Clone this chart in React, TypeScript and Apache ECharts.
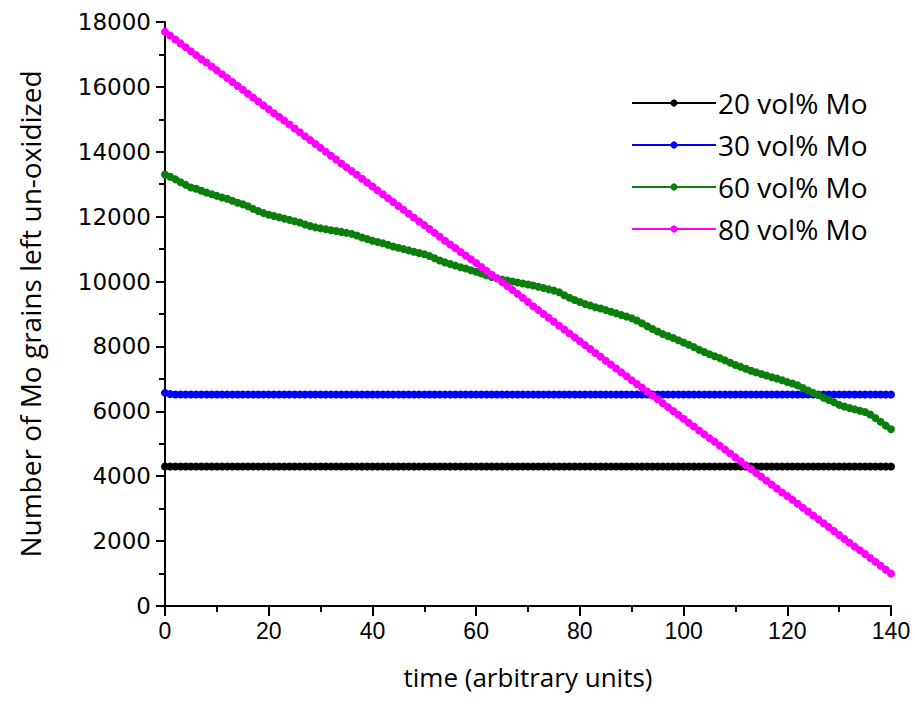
import React, { useEffect, useRef } from "react";
import * as echarts from "echarts";

const seriesNames = ["20 vol% Mo", "30 vol% Mo", "60 vol% Mo", "80 vol% Mo"];
const xTickLabels = ["0", "20", "40", "60", "80", "100", "120", "140"];
const yTickLabels = ["0", "2000", "4000", "6000", "8000", "10000", "12000", "14000", "16000", "18000"];

// time steps 0..140
const time = [
  0, 1, 2, 3, 4, 5, 6, 7, 8, 9,
  10, 11, 12, 13, 14, 15, 16, 17, 18, 19,
  20, 21, 22, 23, 24, 25, 26, 27, 28, 29,
  30, 31, 32, 33, 34, 35, 36, 37, 38, 39,
  40, 41, 42, 43, 44, 45, 46, 47, 48, 49,
  50, 51, 52, 53, 54, 55, 56, 57, 58, 59,
  60, 61, 62, 63, 64, 65, 66, 67, 68, 69,
  70, 71, 72, 73, 74, 75, 76, 77, 78, 79,
  80, 81, 82, 83, 84, 85, 86, 87, 88, 89,
  90, 91, 92, 93, 94, 95, 96, 97, 98, 99,
  100, 101, 102, 103, 104, 105, 106, 107, 108, 109,
  110, 111, 112, 113, 114, 115, 116, 117, 118, 119,
  120, 121, 122, 123, 124, 125, 126, 127, 128, 129,
  130, 131, 132, 133, 134, 135, 136, 137, 138, 139,
  140,
];

const mo20 = [
  4300, 4300, 4300, 4300, 4300, 4300, 4300, 4300, 4300, 4300,
  4300, 4300, 4300, 4300, 4300, 4300, 4300, 4300, 4300, 4300,
  4300, 4300, 4300, 4300, 4300, 4300, 4300, 4300, 4300, 4300,
  4300, 4300, 4300, 4300, 4300, 4300, 4300, 4300, 4300, 4300,
  4300, 4300, 4300, 4300, 4300, 4300, 4300, 4300, 4300, 4300,
  4300, 4300, 4300, 4300, 4300, 4300, 4300, 4300, 4300, 4300,
  4300, 4300, 4300, 4300, 4300, 4300, 4300, 4300, 4300, 4300,
  4300, 4300, 4300, 4300, 4300, 4300, 4300, 4300, 4300, 4300,
  4300, 4300, 4300, 4300, 4300, 4300, 4300, 4300, 4300, 4300,
  4300, 4300, 4300, 4300, 4300, 4300, 4300, 4300, 4300, 4300,
  4300, 4300, 4300, 4300, 4300, 4300, 4300, 4300, 4300, 4300,
  4300, 4300, 4300, 4300, 4300, 4300, 4300, 4300, 4300, 4300,
  4300, 4300, 4300, 4300, 4300, 4300, 4300, 4300, 4300, 4300,
  4300, 4300, 4300, 4300, 4300, 4300, 4300, 4300, 4300, 4300,
  4300,
];

const mo30 = [
  6570, 6530, 6520, 6520, 6520, 6520, 6520, 6520, 6520, 6520,
  6520, 6520, 6520, 6520, 6520, 6520, 6520, 6520, 6520, 6520,
  6520, 6520, 6520, 6520, 6520, 6520, 6520, 6520, 6520, 6520,
  6520, 6520, 6520, 6520, 6520, 6520, 6520, 6520, 6520, 6520,
  6520, 6520, 6520, 6520, 6520, 6520, 6520, 6520, 6520, 6520,
  6520, 6520, 6520, 6520, 6520, 6520, 6520, 6520, 6520, 6520,
  6520, 6520, 6520, 6520, 6520, 6520, 6520, 6520, 6520, 6520,
  6520, 6520, 6520, 6520, 6520, 6520, 6520, 6520, 6520, 6520,
  6520, 6520, 6520, 6520, 6520, 6520, 6520, 6520, 6520, 6520,
  6520, 6520, 6520, 6520, 6520, 6520, 6520, 6520, 6520, 6520,
  6520, 6520, 6520, 6520, 6520, 6520, 6520, 6520, 6520, 6520,
  6520, 6520, 6520, 6520, 6520, 6520, 6520, 6520, 6520, 6520,
  6520, 6520, 6520, 6520, 6520, 6520, 6520, 6520, 6520, 6520,
  6520, 6520, 6520, 6520, 6520, 6520, 6520, 6520, 6520, 6520,
  6520,
];

const mo60 = [
  13300, 13230, 13150, 13060, 12980, 12900, 12860, 12800, 12740, 12690,
  12640, 12590, 12550, 12490, 12430, 12380, 12320, 12240, 12170, 12110,
  12060, 12020, 11980, 11940, 11900, 11860, 11820, 11760, 11710, 11670,
  11640, 11610, 11580, 11560, 11530, 11500, 11470, 11420, 11360, 11310,
  11260, 11220, 11180, 11130, 11080, 11040, 11000, 10960, 10920, 10880,
  10840, 10790, 10720, 10650, 10590, 10540, 10490, 10440, 10400, 10350,
  10300, 10250, 10190, 10140, 10100, 10060, 10030, 10000, 9970, 9940,
  9910, 9880, 9840, 9800, 9760, 9720, 9670, 9580, 9500, 9430,
  9370, 9310, 9260, 9210, 9170, 9120, 9070, 9020, 8970, 8920,
  8870, 8800, 8710, 8620, 8540, 8460, 8380, 8320, 8260, 8190,
  8120, 8050, 7980, 7900, 7830, 7760, 7700, 7640, 7570, 7500,
  7430, 7370, 7310, 7250, 7200, 7150, 7100, 7050, 7010, 6960,
  6900, 6860, 6800, 6720, 6640, 6570, 6500, 6420, 6350, 6280,
  6200, 6150, 6100, 6060, 6020, 5980, 5900, 5790, 5680, 5560,
  5450,
];

const mo80 = [
  17700, 17580, 17460, 17340, 17220, 17100, 16980, 16860, 16750, 16630,
  16510, 16390, 16270, 16150, 16030, 15910, 15790, 15670, 15550, 15430,
  15310, 15190, 15080, 14960, 14840, 14720, 14600, 14480, 14360, 14240,
  14120, 14000, 13880, 13760, 13640, 13520, 13410, 13290, 13170, 13050,
  12930, 12810, 12690, 12570, 12450, 12330, 12210, 12090, 11970, 11850,
  11740, 11620, 11500, 11380, 11260, 11140, 11030, 10910, 10800, 10690,
  10570, 10450, 10330, 10210, 10100, 9980, 9860, 9740, 9620, 9500,
  9370, 9240, 9120, 9000, 8880, 8760, 8640, 8520, 8400, 8280,
  8160, 8040, 7920, 7800, 7680, 7560, 7440, 7320, 7200, 7080,
  6960, 6840, 6730, 6610, 6490, 6370, 6250, 6130, 6010, 5890,
  5770, 5650, 5530, 5410, 5290, 5170, 5060, 4940, 4820, 4700,
  4580, 4460, 4340, 4220, 4100, 3980, 3860, 3740, 3620, 3500,
  3390, 3270, 3150, 3030, 2910, 2790, 2670, 2550, 2430, 2310,
  2190, 2070, 1950, 1830, 1720, 1600, 1480, 1360, 1240, 1120,
  1000,
];

const colors = ["#000000", "#0000ff", "#0a800a", "#ff00ff"];
const allSeries = [mo20, mo30, mo60, mo80];

export default function App() {
  const ref = useRef<HTMLDivElement>(null);
  useEffect(() => {
    if (!ref.current) return;
    const chart = echarts.init(ref.current, null, { renderer: "svg" });
    const tickFont = "'DejaVu Sans', sans-serif";
    const textFont = "'Open Sans', 'Noto Sans', sans-serif";
    chart.setOption({
      animation: false,
      backgroundColor: "#ffffff",
      grid: { left: 165, width: 726, top: 22, height: 584, containLabel: false },
      legend: {
        orient: "vertical",
        left: 626,
        top: 84,
        itemWidth: 84,
        itemHeight: 9,
        itemGap: 14,
        data: seriesNames,
        textStyle: { fontFamily: textFont, fontSize: 28, color: "#000", padding: [0, 0, 0, -3] },
      },
      xAxis: {
        type: "value",
        min: 0,
        max: 140,
        interval: 20,
        name: "time (arbitrary units)",
        nameLocation: "middle",
        nameGap: 58,
        nameTextStyle: { fontFamily: textFont, fontSize: 26, color: "#000" },
        axisLine: { show: true, lineStyle: { color: "#000", width: 2 } },
        axisTick: { show: true, length: 10, lineStyle: { color: "#000", width: 2 } },
        minorTick: { show: true, splitNumber: 2, length: 6, lineStyle: { color: "#000", width: 2 } },
        splitLine: { show: false },
        axisLabel: {
          fontFamily: "'Liberation Sans Narrow', 'Liberation Sans', sans-serif",
          fontSize: 23,
          color: "#000",
          margin: 13,
          formatter: (v: number) => xTickLabels[Math.round(v / 20)] ?? "",
        },
      },
      yAxis: {
        type: "value",
        min: 0,
        max: 18000,
        interval: 2000,
        name: "Number of Mo grains left un-oxidized",
        nameLocation: "middle",
        nameGap: 121,
        nameTextStyle: { fontFamily: textFont, fontSize: 28, color: "#000" },
        axisLine: { show: true, lineStyle: { color: "#000", width: 2 } },
        axisTick: { show: true, length: 9, lineStyle: { color: "#000", width: 2 } },
        minorTick: { show: true, splitNumber: 2, length: 6, lineStyle: { color: "#000", width: 2 } },
        splitLine: { show: false },
        axisLabel: {
          fontFamily: tickFont,
          fontSize: 23,
          color: "#000",
          margin: 14,
          formatter: (v: number) => yTickLabels[Math.round(v / 2000)] ?? "",
        },
      },
      series: allSeries.map((vals, i) => ({
        name: seriesNames[i],
        type: "line",
        data: time.map((t, j) => [t, vals[j]]),
        symbol: "circle",
        symbolSize: 8,
        showSymbol: true,
        showAllSymbol: true,
        lineStyle: { color: colors[i], width: 3 },
        itemStyle: { color: colors[i] },
        z: 2 + i,
      })),
    });
    return () => chart.dispose();
  }, []);
  return (
    <div
      ref={ref}
      style={{ position: "absolute", left: 0, top: 0, width: 915, height: 710 }}
    />
  );
}
